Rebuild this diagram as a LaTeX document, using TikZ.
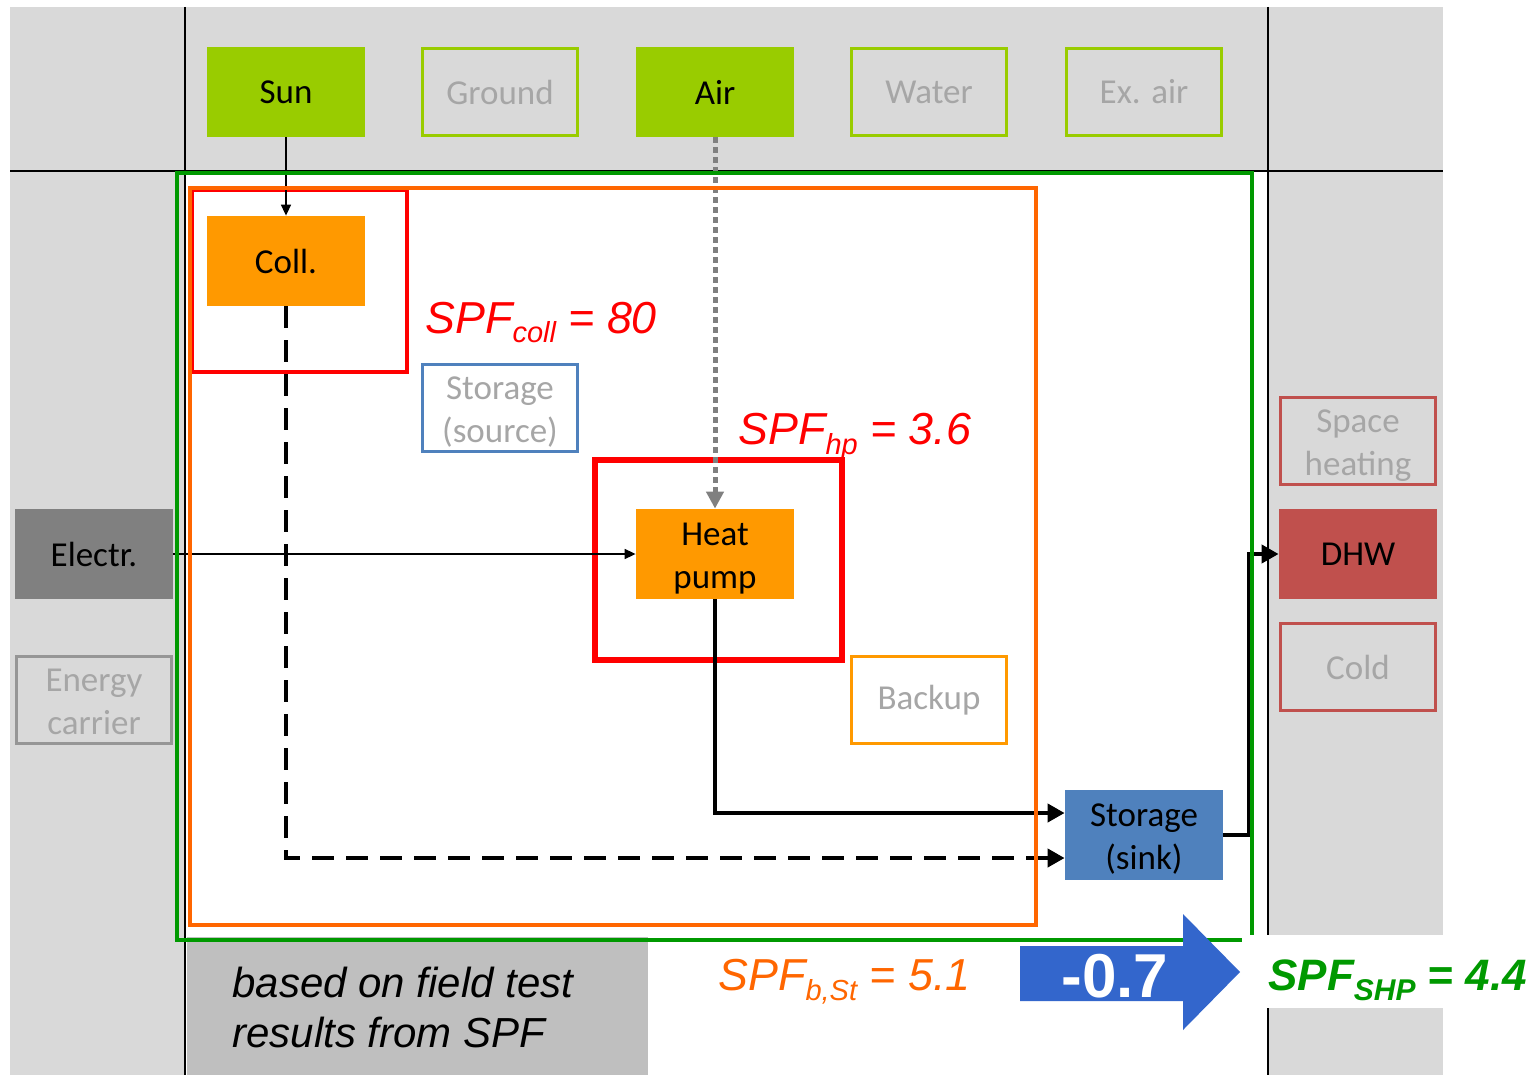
\documentclass[tikz,border=0pt]{standalone}
\usepackage{fontspec}
\setmainfont{Carlito}
\newfontfamily\arialf{Liberation Sans}
\usetikzlibrary{arrows.meta,calc}
\definecolor{bggray}{HTML}{D9D9D9}
\definecolor{boxgray}{HTML}{BFBFBF}
\definecolor{txtgray}{HTML}{A6A6A6}
\definecolor{lgreen}{HTML}{99CC00}
\definecolor{dgreen}{HTML}{009900}
\definecolor{orfill}{HTML}{FF9900}
\definecolor{orline}{HTML}{FF6600}
\definecolor{bluebox}{HTML}{4F81BD}
\definecolor{redbox}{HTML}{C0504D}
\definecolor{elgray}{HTML}{808080}
\definecolor{ecgray}{HTML}{969696}
\definecolor{arrblue}{HTML}{3366CC}
\newcommand\ndfont{\fontsize{17.5}{21.5}\selectfont}
\newcommand\subf{\fontsize{14.5}{14.5}\selectfont}
\newcommand\twoline[2]{\raisebox{-2.4pt}[\height][\depth]{\begin{tabular}{@{}c@{}}#1\\#2\end{tabular}}}
\begin{document}
\begin{tikzpicture}[x=0.5pt,y=-0.5pt,
  box/.style={rectangle, minimum width=79pt, minimum height=45pt, inner sep=0pt, align=center, font=\ndfont},
  fbox/.style={box, minimum width=77.5pt, minimum height=43.5pt, line width=1.6pt, text=txtgray},
  thinarrow/.style={line width=0.8pt, -{Triangle[length=5.5pt,width=5pt]}},
  thickarrow/.style={line width=2pt, -{Triangle[length=8.5pt,width=9pt]}},
  frame/.style={line width=2.2pt},
  spflabel/.style={anchor=base west, inner sep=0pt, font=\arialf\itshape\fontsize{22.4}{22.4}\selectfont}
]
\useasboundingbox (0,0) rectangle (1536,1075);
% background regions
\fill[bggray] (10,7) rectangle (1443,1075);
\fill[white] (185,171) rectangle (1268,1075);
\draw[line width=0.8pt] (185,7) -- (185,1075);
\draw[line width=0.8pt] (1268,7) -- (1268,1075);
\draw[line width=0.8pt] (10,171) -- (1443,171);
% note box
\node[fill=boxgray, minimum width=230.5pt, minimum height=69pt, inner sep=0pt, anchor=north west] (notebox) at (187,937) {};
\node[anchor=base west, inner sep=0pt, align=left, font=\arialf\itshape\fontsize{21}{25}\selectfont] (note) at (232,1047) {based on field test\\results from SPF};
% red frames
\draw[frame, red] (192,190) rectangle (407,372);
\draw[frame, red, line width=2.6pt] (595,460) rectangle (842,660);
% top row
\node[box, fill=lgreen] (sun) at (286,92) {Sun};
\node[fbox, draw=lgreen] (ground) at (500,92) {Ground};
\node[box, fill=lgreen] (air) at (715,92) {Air};
\node[fbox, draw=lgreen] (water) at (929,92) {Water};
\node[fbox, draw=lgreen] (exair) at (1144,92) {Ex. air};
% left column
\node[box, fill=elgray] (electr) at (94,554) {Electr.};
\node[fbox, draw=ecgray] (ecarrier) at (94,700) {\twoline{Energy}{carrier}};
% right column
\node[fbox, draw=redbox] (space) at (1358,441) {\twoline{Space}{heating}};
\node[box, fill=redbox] (dhw) at (1358,554) {DHW};
\node[fbox, draw=redbox] (cold) at (1358,667) {Cold};
% center
\node[box, fill=orfill] (coll) at (286,261) {Coll.};
\node[fbox, draw=bluebox, line width=1.5pt] (ssource) at (500,408) {\twoline{Storage}{(source)}};
\node[box, fill=orfill] (hp) at (715,554) {\twoline{Heat}{pump}};
\node[fbox, draw=orfill] (backup) at (929,700) {Backup};
\node[box, fill=bluebox] (ssink) at (1144,835) {\twoline{Storage}{(sink)}};
% connectors
\draw[thinarrow] (sun.south) -- (coll.north);
\draw[thinarrow] (electr.east) -- (hp.west);
\draw[line width=2.5pt, elgray, dash pattern=on 3pt off 2pt, -{Triangle[length=8.5pt,width=8.5pt]}] (air.south) -- (hp.north);
\draw[thickarrow, dash pattern=on 11pt off 6pt] (coll.south) |- ($(ssink.west)+(0,23)$);
\draw[thickarrow] (hp.south) |- ($(ssink.west)+(0,-22)$);
\coordinate (bend) at (1249,835);
\draw[thickarrow] (ssink.east) -- (bend) |- (dhw.west);
% system frames
\draw[frame, orline, line width=2pt] (190,188) rectangle (1036,925);
\draw[frame, dgreen] (177,173) rectangle (1252,940);
% SPF labels
\node[spflabel, text=red] (spfcoll) at (425,333) {SPF\raisebox{-5pt}{\subf coll} = 80};
\node[spflabel, text=red] (spfhp) at (738,444) {SPF\raisebox{-5pt}{\subf hp} = 3.6};
\node[spflabel, text=orline] (spfbst) at (718,990) {SPF\raisebox{-5pt}{\subf b,St} = 5.1};
% blue arrow
\fill[arrblue] (1020,946) -- (1183,946) -- (1183,914) -- (1240,972) -- (1183,1030) -- (1183,1001) -- (1020,1001) -- cycle;
\node[text=white, inner sep=0pt, anchor=base, font=\arialf\bfseries\fontsize{31}{31}\selectfont] (delta) at (1115,997) {-0.7};
% system SPF
\fill[white] (1242,935) rectangle (1536,1008);
\node[spflabel, text=dgreen, font=\arialf\bfseries\itshape\fontsize{22}{22}\selectfont] (spfshp) at (1268,990) {SPF\raisebox{-5pt}{\fontsize{15}{15}\selectfont SHP} = 4.4};
\end{tikzpicture}
\end{document}
